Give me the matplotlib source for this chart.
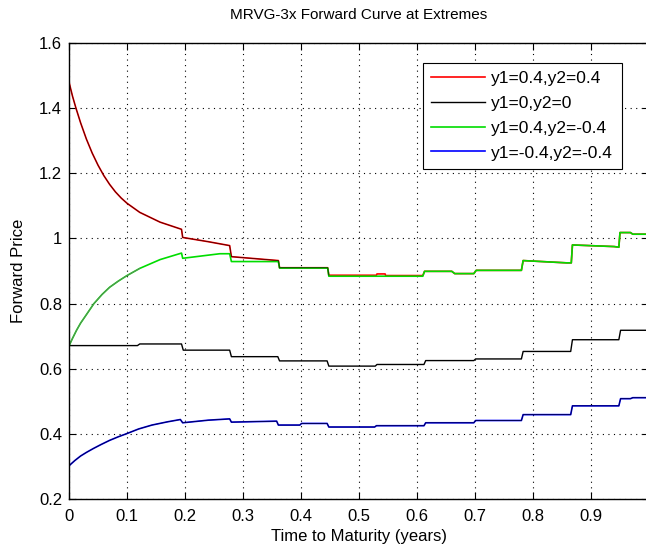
import numpy as np
import matplotlib
matplotlib.use("Agg")
import matplotlib.pyplot as plt

plt.rcParams['font.family'] = ['Liberation Sans', 'DejaVu Sans']

# forward curves (time in years, price)
t_red = [0.000, 0.006, 0.012, 0.020, 0.030, 0.040, 0.050, 0.060, 0.070, 0.080, 0.090, 0.100,
         0.122, 0.157, 0.194, 0.196, 0.240, 0.277, 0.280, 0.361, 0.363, 0.446, 0.448, 0.530,
         0.531, 0.545, 0.546, 0.610, 0.613, 0.660, 0.665, 0.698, 0.702, 0.780, 0.783, 0.858,
         0.866, 0.868, 0.940, 0.948, 0.950, 0.968, 0.972, 1.000]
v_red = [1.480, 1.437, 1.400, 1.355, 1.305, 1.262, 1.225, 1.193, 1.166, 1.143, 1.124, 1.108,
         1.080, 1.050, 1.028, 1.003, 0.990, 0.978, 0.944, 0.932, 0.910, 0.910, 0.887, 0.887,
         0.891, 0.891, 0.886, 0.886, 0.899, 0.899, 0.892, 0.892, 0.902, 0.902, 0.932, 0.925,
         0.925, 0.980, 0.975, 0.973, 1.018, 1.018, 1.013, 1.013]

t_black = [0.000, 0.118, 0.122, 0.194, 0.197, 0.277, 0.280, 0.360, 0.363, 0.445, 0.448, 0.528,
           0.531, 0.612, 0.615, 0.698, 0.701, 0.780, 0.783, 0.865, 0.868, 0.948, 0.951, 1.000]
v_black = [0.671, 0.671, 0.676, 0.676, 0.657, 0.657, 0.637, 0.637, 0.624, 0.624, 0.608, 0.608,
           0.613, 0.613, 0.625, 0.625, 0.630, 0.630, 0.653, 0.653, 0.689, 0.689, 0.718, 0.718]

t_green = [0.000, 0.006, 0.013, 0.020, 0.030, 0.043, 0.057, 0.070, 0.085, 0.100, 0.122, 0.157,
           0.194, 0.196, 0.260, 0.277, 0.280, 0.361, 0.363, 0.446, 0.448, 0.610, 0.613, 0.660,
           0.665, 0.698, 0.702, 0.780, 0.783, 0.858, 0.866, 0.868, 0.940, 0.948, 0.950, 0.968,
           0.972, 1.000]
v_green = [0.670, 0.693, 0.718, 0.740, 0.766, 0.800, 0.828, 0.850, 0.869, 0.886, 0.908, 0.935,
           0.955, 0.939, 0.953, 0.953, 0.929, 0.929, 0.909, 0.909, 0.884, 0.884, 0.899, 0.899,
           0.892, 0.892, 0.902, 0.902, 0.932, 0.925, 0.925, 0.980, 0.975, 0.973, 1.018, 1.018,
           1.013, 1.013]

t_blue = [0.000, 0.010, 0.020, 0.030, 0.042, 0.055, 0.070, 0.085, 0.100, 0.120, 0.143, 0.170,
          0.192, 0.196, 0.240, 0.277, 0.280, 0.358, 0.361, 0.398, 0.401, 0.445, 0.448, 0.527,
          0.530, 0.612, 0.615, 0.698, 0.701, 0.780, 0.783, 0.865, 0.868, 0.948, 0.951, 0.968,
          0.972, 1.000]
v_blue = [0.302, 0.318, 0.332, 0.343, 0.355, 0.367, 0.380, 0.391, 0.401, 0.415, 0.427, 0.437,
          0.444, 0.434, 0.442, 0.446, 0.436, 0.439, 0.427, 0.427, 0.432, 0.432, 0.421, 0.421,
          0.425, 0.425, 0.434, 0.434, 0.441, 0.441, 0.459, 0.459, 0.486, 0.486, 0.508, 0.508,
          0.511, 0.511]

labels = ['y1=0.4,y2=0.4', 'y1=0,y2=0', 'y1=0.4,y2=-0.4', 'y1=-0.4,y2=-0.4']

fig = plt.figure(figsize=(6.46, 5.46), dpi=100)
ax = fig.add_axes([69/646, 47/546, 580/646, 456/546])

ax.plot(t_red, v_red, color='r', lw=1.2, label=labels[0])
ax.plot(t_black, v_black, color='k', lw=1.0, label=labels[1])
ax.plot(t_green, v_green, color='#00dd00', lw=1.2, label=labels[2])
ax.plot(t_blue, v_blue, color='b', lw=1.2, label=labels[3])

# the picture shows darker lines sitting on the red and blue ones
tr = np.array(t_red)
ax.plot(tr[tr < 0.45], np.array(v_red)[tr < 0.45], color='k', lw=0.6, alpha=0.7)
ax.plot(t_blue, v_blue, color='k', lw=0.6, alpha=0.75)
tg = np.array(t_green)
ax.plot(tg[tg < 0.13], np.array(v_green)[tg < 0.13], color='0.45', lw=0.7, alpha=0.8)

ax.set_xlim(0, 1)
ax.set_ylim(0.2, 1.6)
ax.set_xticks(np.arange(0, 1.0, 0.1))
ax.set_xticklabels(['0', '0.1', '0.2', '0.3', '0.4', '0.5', '0.6', '0.7', '0.8', '0.9'])
ax.set_yticks(np.arange(0.2, 1.61, 0.2))
ax.set_yticklabels(['0.2', '0.4', '0.6', '0.8', '1', '1.2', '1.4', '1.6'])
ax.tick_params(direction='in', length=5, width=0.8, labelsize=12, top=True, right=True, pad=5)
ax.tick_params(axis='x', pad=7)
ax.grid(True, color='k', linestyle=(0, (1, 4)), linewidth=0.8)
for s in ax.spines.values():
    s.set_linewidth(1.0)

ax.set_title('MRVG-3x Forward Curve at Extremes', fontsize=11, pad=17)
ax.set_xlabel('Time to Maturity (years)', fontsize=12, labelpad=4)
ax.set_ylabel('Forward Price', fontsize=12, labelpad=9)

leg = ax.legend(loc='upper right', bbox_to_anchor=(0.953, 0.957), borderaxespad=0,
                fontsize=12.5, handlelength=3.1, handletextpad=0.35, labelspacing=0.55,
                fancybox=False, framealpha=1, edgecolor='k', borderpad=0.5)
leg.get_frame().set_linewidth(0.8)

fig.savefig('out.png', dpi=100)
